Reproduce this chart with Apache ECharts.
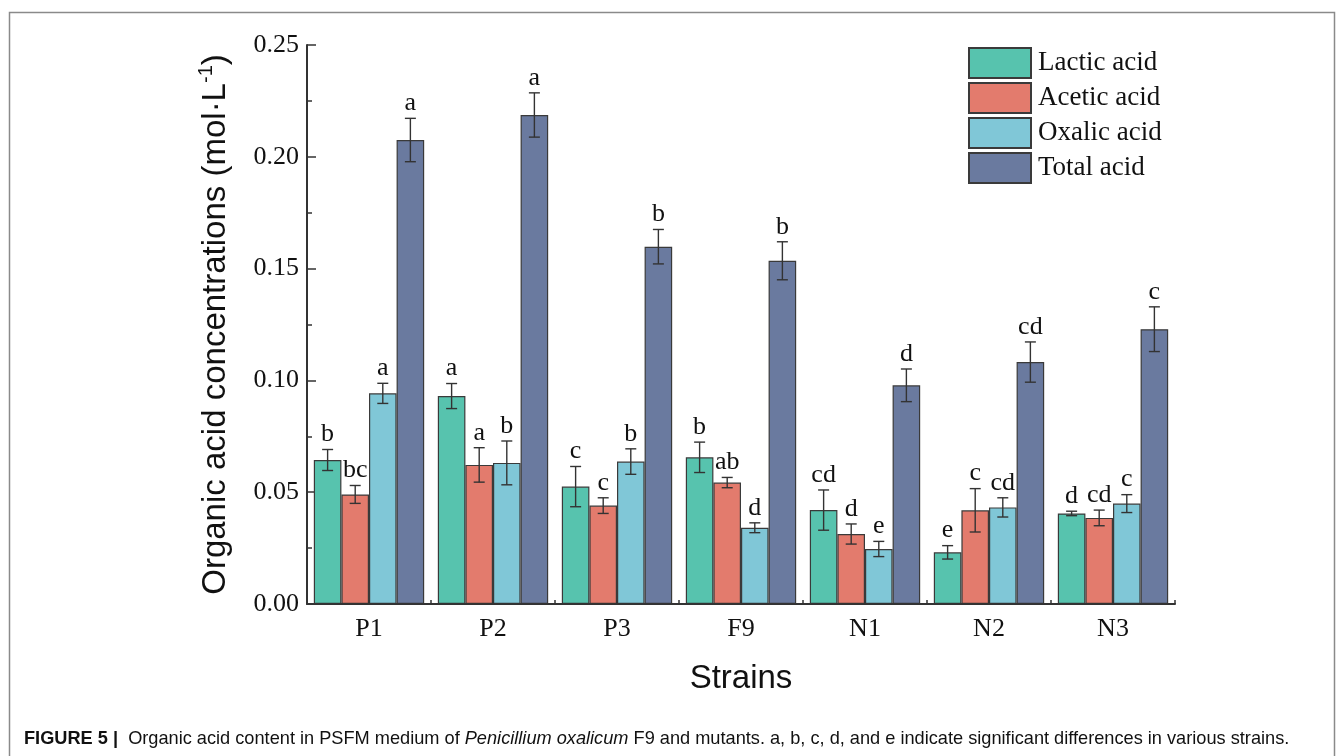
<!DOCTYPE html>
<html>
<head>
<meta charset="utf-8">
<script src="https://cdn.jsdelivr.net/npm/echarts@6/dist/echarts.min.js"></script>
<style>
html,body{margin:0;padding:0;background:#fff;}
#c{width:1344px;height:756px;}
</style>
</head>
<body>
<div id="c"></div>
<script>
const categories = ['P1', 'P2', 'P3', 'F9', 'N1', 'N2', 'N3'];
const seriesNames = ['Lactic acid', 'Acetic acid', 'Oxalic acid', 'Total acid'];

const lactic = [0.0644, 0.0930, 0.0525, 0.0656, 0.0420, 0.0231, 0.0405];
const acetic = [0.0490, 0.0622, 0.0440, 0.0543, 0.0313, 0.0419, 0.0385];
const oxalic = [0.0942, 0.0631, 0.0637, 0.0341, 0.0246, 0.0432, 0.0449];
const total  = [0.2075, 0.2187, 0.1598, 0.1535, 0.0978, 0.1082, 0.1229];

const lacticErr = [0.0047, 0.0056, 0.0090, 0.0068, 0.0090, 0.0030, 0.0010];
const aceticErr = [0.0040, 0.0077, 0.0035, 0.0023, 0.0045, 0.0097, 0.0035];
const oxalicErr = [0.0045, 0.0098, 0.0057, 0.0022, 0.0034, 0.0043, 0.0040];
const totalErr  = [0.0097, 0.0099, 0.0077, 0.0085, 0.0073, 0.0090, 0.0100];

const lacticSig = ['b', 'a', 'c', 'b', 'cd', 'e', 'd'];
const aceticSig = ['bc', 'a', 'c', 'ab', 'd', 'c', 'cd'];
const oxalicSig = ['a', 'b', 'b', 'd', 'e', 'cd', 'c'];
const totalSig  = ['a', 'a', 'b', 'b', 'd', 'cd', 'c'];

const yTicks = [0, 0.05, 0.10, 0.15, 0.20, 0.25];

const colors = ['#57C3AE', '#E37B6D', '#80C7D7', '#6A7A9F'];
const values = [lactic, acetic, oxalic, total];
const errs = [lacticErr, aceticErr, oxalicErr, totalErr];
const sigs = [lacticSig, aceticSig, oxalicSig, totalSig];

const GAP = 0.11;
const serif = '"Liberation Serif","Times New Roman",serif';
const sans = '"Liberation Sans",Arial,sans-serif';

function errRenderer(s) {
  return function (params, api) {
    const idx = api.value(0);
    const v = api.value(1);
    const e = api.value(2);
    const band = api.size([1, 0])[0];
    const w = band * (1 - GAP) / 4;
    const cx = api.coord([idx, 0])[0] + (s - 1.5) * w;
    const top = api.coord([idx, v + e])[1];
    const bot = api.coord([idx, v - e])[1];
    const cap = 5.5;
    const st = { stroke: '#333', lineWidth: 1.4 };
    return {
      type: 'group',
      children: [
        { type: 'line', shape: { x1: cx, y1: top, x2: cx, y2: bot }, style: st },
        { type: 'line', shape: { x1: cx - cap, y1: top, x2: cx + cap, y2: top }, style: st },
        { type: 'line', shape: { x1: cx - cap, y1: bot, x2: cx + cap, y2: bot }, style: st },
        { type: 'text', style: { x: cx, y: top - 2, text: sigs[s][params.dataIndex], fill: '#111',
            font: '26px ' + serif, textAlign: 'center', textVerticalAlign: 'bottom' } }
      ]
    };
  };
}

const series = [];
for (let s = 0; s < 4; s++) {
  series.push({
    name: seriesNames[s],
    type: 'bar',
    data: values[s],
    barGap: '0%',
    barCategoryGap: (GAP * 100) + '%',
    itemStyle: { color: colors[s], borderColor: '#3a3a3a', borderWidth: 1.2 },
    emphasis: { disabled: true },
    z: 2
  });
}
for (let s = 0; s < 4; s++) {
  series.push({
    type: 'custom',
    name: seriesNames[s] + ' err',
    renderItem: errRenderer(s),
    data: values[s].map((v, i) => [i, v, errs[s][i]]),
    encode: { x: 0, y: 1 },
    z: 5,
    silent: true
  });
}

const capFont = '"Liberation Sans",Arial,sans-serif';
const capSize = 18.2;

const chart = echarts.init(document.getElementById('c'), null, { renderer: 'canvas' });
chart.setOption({
  animation: false,
  backgroundColor: '#fff',
  grid: { left: 307, right: 169, top: 45, bottom: 152, containLabel: false },
  legend: {
    data: seriesNames,
    orient: 'vertical',
    left: 963,
    top: 42,
    itemWidth: 62,
    itemHeight: 30,
    itemGap: 3,
    icon: 'rect',
    textStyle: { fontFamily: serif, fontSize: 27, lineHeight: 30, color: '#111', padding: [0, 0, 0, 2] },
    selectedMode: false
  },
  xAxis: [{
    type: 'category',
    data: categories,
    position: 'bottom',
    axisLine: { lineStyle: { color: '#333', width: 2 } },
    axisTick: { show: true, inside: true, length: 4, lineStyle: { color: '#333', width: 1.5 } },
    axisLabel: { fontFamily: serif, fontSize: 26, color: '#111', margin: 12 },
    name: 'Strains',
    nameLocation: 'middle',
    nameGap: 58,
    nameTextStyle: { fontFamily: sans, fontSize: 33, color: '#111' },
    z: 10
  }, {
    type: 'category',
    data: categories,
    position: 'bottom',
    offset: 0,
    axisLine: { show: false },
    axisTick: { show: true, inside: true, alignWithLabel: true, length: 4, lineStyle: { color: '#333', width: 1.5 } },
    axisLabel: { show: false },
    z: 10
  }],
  yAxis: {
    type: 'value',
    min: yTicks[0],
    max: yTicks[yTicks.length - 1],
    interval: 0.05,
    axisLine: { show: true, lineStyle: { color: '#333', width: 2 } },
    axisTick: { show: true, inside: true, length: 9, lineStyle: { color: '#333', width: 1.5 } },
    minorTick: { show: true, splitNumber: 2, length: 5, lineStyle: { color: '#333', width: 1.5 } },
    splitLine: { show: false },
    axisLabel: { fontFamily: serif, fontSize: 26, color: '#111', margin: 8, formatter: v => v.toFixed(2) },
    name: '{a|Organic acid concentrations (mol·L}{s|-1}{a|)}',
    nameLocation: 'middle',
    nameGap: 75,
    nameTextStyle: {
      rich: {
        a: { fontFamily: sans, fontSize: 33, color: '#111', lineHeight: 36, verticalAlign: 'bottom' },
        s: { fontFamily: sans, fontSize: 20, color: '#111', lineHeight: 36, verticalAlign: 'top', padding: [0, 0, 12, 0] }
      }
    }
  },
  series: series,
  graphic: [
    { type: 'rect', shape: { x: 9.5, y: 12.5, width: 1325, height: 760 }, style: { fill: 'none', stroke: '#8a8a8a', lineWidth: 1.5 }, z: 0 },
    { type: 'text', left: 24, top: 730,
      style: {
        text: '{b|FIGURE 5 |}{r|  Organic acid content in PSFM medium of }{i|Penicillium oxalicum}{r| F9 and mutants. a, b, c, d, and e indicate significant differences in various strains.}',
        rich: {
          b: { fontFamily: capFont, fontWeight: 'bold', fontSize: capSize, fill: '#111' },
          r: { fontFamily: capFont, fontSize: capSize, fill: '#111' },
          i: { fontFamily: capFont, fontStyle: 'italic', fontSize: capSize, fill: '#111' }
        }
      }
    }
  ]
});
</script>
</body>
</html>
